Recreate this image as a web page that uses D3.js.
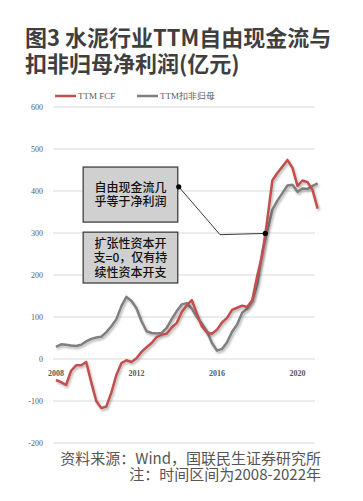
<!DOCTYPE html>
<html>
<head>
<meta charset="utf-8">
<script src="https://cdn.jsdelivr.net/npm/d3@7"></script>
<style>
  body { margin: 0; background: #fff; }
  svg { display: block; }
</style>
</head>
<body>
<div id="main"></div>
<script>
// quarterly values, 2008Q1 onwards (亿元)
const fcf = [-50, -55, -62, -28, -15, -15, -7, -55, -100, -117, -113, -80, -38, -10, -3, -7,
  2, 17, 28, 38, 52, 58, 60, 75, 86, 112, 128, 140, 108, 78, 63, 60,
  70, 87, 98, 117, 122, 127, 124, 140, 198, 248, 332, 425, 443, 458, 474, 455,
  412, 425, 421, 402, 358];
const profit = [29, 35, 34, 32, 31, 34, 42, 48, 51, 53, 64, 78, 95, 126, 148, 138,
  121, 90, 66, 62, 61, 62, 74, 95, 114, 130, 133, 120, 100, 84, 66, 38,
  20, 24, 40, 65, 82, 110, 120, 138, 178, 255, 305, 355, 377, 395, 413, 415,
  398, 406, 405, 412, 418];
const yTicks = [600, 500, 400, 300, 200, 100, 0, -100, -200];
const xTicks = [2008, 2012, 2016, 2020];
const seriesNames = ["TTM FCF", "TTM扣非归母"];
const noteBox1 = ["自由现金流几", "乎等于净利润"];
const noteBox2 = ["扩张性资本开", "支=0，仅有持", "续性资本开支"];

const width = 363, height = 501;
const svg = d3.select("#main").append("svg")
  .attr("width", width).attr("height", height);

const defs = svg.append("defs");
const f = defs.append("filter").attr("id", "shadow")
  .attr("x", "-10%").attr("y", "-10%").attr("width", "120%").attr("height", "120%");
f.append("feDropShadow").attr("dx", 1.2).attr("dy", 1.8)
  .attr("stdDeviation", 1.1).attr("flood-color", "#000").attr("flood-opacity", 0.3);

// title
svg.append("g")
  .attr("font-family", "'Noto Sans CJK SC', sans-serif")
  .attr("font-weight", "bold").attr("font-size", "22px").attr("fill", "#3f3f3f")
  .selectAll("text")
  .data(["图3 水泥行业TTM自由现金流与", "扣非归母净利润(亿元)"])
  .join("text")
    .attr("x", 25).attr("y", (d, i) => 46 + i * 26)
    .text(d => d);

const x = d3.scaleLinear().domain([2008, 2020]).range([56, 297.5]);
const y = d3.scaleLinear().domain([-200, 600]).range([443, 107]);
const qx = i => x(2008 + i / 4);

// grid
svg.append("g")
  .selectAll("line")
  .data(yTicks)
  .join("line")
    .attr("x1", 53).attr("x2", 315)
    .attr("y1", d => y(d)).attr("y2", d => y(d))
    .attr("stroke", "#d9d9d9").attr("stroke-width", 1);

svg.append("g")
  .attr("font-family", "'Liberation Serif', serif").attr("font-size", "8px").attr("fill", "#595959")
  .selectAll("text")
  .data(yTicks)
  .join("text")
    .attr("x", 43).attr("y", d => y(d) + 3)
    .attr("text-anchor", "end")
    .text(d => d);

svg.append("g")
  .attr("font-family", "'Liberation Serif', serif").attr("font-size", "8px")
  .attr("font-weight", "bold").attr("fill", "#595959")
  .selectAll("text")
  .data(xTicks)
  .join("text")
    .attr("x", d => x(d)).attr("y", y(0) + 17)
    .attr("text-anchor", "middle")
    .text(d => d);

// lines
const line = d3.line().x((d, i) => qx(i)).y(d => y(d));
svg.append("path").datum(profit)
  .attr("d", line).attr("fill", "none")
  .attr("stroke", "#7f7f7f").attr("stroke-width", 2.5)
  .attr("stroke-linejoin", "round").attr("filter", "url(#shadow)");
svg.append("path").datum(fcf)
  .attr("d", line).attr("fill", "none")
  .attr("stroke", "#c0504d").attr("stroke-width", 2.5)
  .attr("stroke-linejoin", "round").attr("filter", "url(#shadow)");

// legend
const legend = svg.append("g")
  .attr("font-family", "'Liberation Serif', serif").attr("font-size", "9px").attr("fill", "#595959");
const legendItems = [
  { name: seriesNames[0], color: "#c0504d", x: 55 },
  { name: seriesNames[1], color: "#7f7f7f", x: 137 }
];
legendItems.forEach(d => {
  legend.append("line").attr("x1", d.x).attr("x2", d.x + 21)
    .attr("y1", 96).attr("y2", 96).attr("stroke", d.color).attr("stroke-width", 2.5);
  legend.append("text").attr("x", d.x + 23).attr("y", 99).text(d.name);
});

// annotation boxes (in data units)
const boxes = [
  { x0: 2009.35, x1: 2014.05, y0: 457, y1: 326, lines: noteBox1 },
  { x0: 2009.35, x1: 2014.05, y0: 302, y1: 181, lines: noteBox2 }
];
boxes.forEach(b => {
  const bx = x(b.x0), by = y(b.y0), bw = x(b.x1) - x(b.x0), bh = y(b.y1) - y(b.y0);
  svg.append("rect").attr("x", bx).attr("y", by).attr("width", bw).attr("height", bh)
    .attr("fill", "#d0d0d0").attr("stroke", "#404040").attr("stroke-width", 1.3);
  const n = b.lines.length;
  svg.append("g")
    .attr("font-family", "'Noto Sans CJK SC', sans-serif").attr("font-size", "12px")
    .attr("font-weight", 500).attr("fill", "#111")
    .selectAll("text").data(b.lines).join("text")
      .attr("x", bx + bw / 2)
      .attr("y", (d, i) => by + bh / 2 + (i - (n - 1) / 2) * 14.5 + 4.5)
      .attr("text-anchor", "middle")
      .text(d => d);
});

// connector
const p1 = [x(2014.1), y(410)];
const p2 = [x(2016.15), y(296)];
const p3 = [qx(41.6), y(299)];
svg.append("path")
  .attr("d", d3.line()([p1, p2, p3]))
  .attr("fill", "none").attr("stroke", "#222").attr("stroke-width", 0.9);
svg.append("g").selectAll("circle").data([p1, p3]).join("circle")
  .attr("cx", d => d[0]).attr("cy", d => d[1]).attr("r", 2.6).attr("fill", "#000");

// source
svg.append("g")
  .attr("font-family", "'Noto Sans CJK SC', sans-serif").attr("font-size", "15px").attr("fill", "#555")
  .selectAll("text")
  .data(["资料来源：Wind，国联民生证券研究所", "注：时间区间为2008-2022年"])
  .join("text")
    .attr("x", 321).attr("y", (d, i) => 464 + i * 15.5)
    .attr("text-anchor", "end")
    .text(d => d);
</script>
</body>
</html>
